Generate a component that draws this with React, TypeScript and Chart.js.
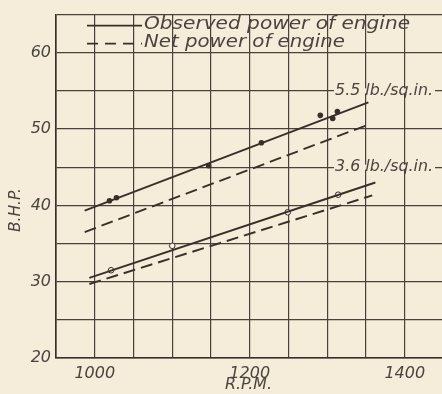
import React, { useEffect, useRef } from "react";
import { Chart, registerables } from "chart.js";

Chart.register(...registerables);

// ---- data ----
const xTicks = [950, 1000, 1050, 1100, 1150, 1200, 1250, 1300, 1350, 1400];
const xTickLabels = ["1000", "1200", "1400"];
const yTicks = [20, 25, 30, 35, 40, 45, 50, 55, 60, 65];
const yTickLabels = ["20", "30", "40", "50", "60"];

// 5.5 lb/sq.in. manifold pressure
const obs55Rpm = [987, 1353];
const obs55Bhp = [39.3, 53.5];
const net55Rpm = [987, 1356];
const net55Bhp = [36.5, 50.7];
const pts55Rpm = [1019, 1028, 1147, 1215, 1291, 1307, 1313];
const pts55Bhp = [40.6, 41.0, 45.2, 48.2, 51.8, 51.4, 52.3];

// 3.6 lb/sq.in.
const obs36Rpm = [993, 1362];
const obs36Bhp = [30.5, 43.0];
const net36Rpm = [993, 1358];
const net36Bhp = [29.7, 41.3];
const pts36Rpm = [1021, 1100, 1249, 1314];
const pts36Bhp = [31.5, 34.7, 39.1, 41.4];

const curveLabels = ["5.5 lb./sq.in.", "3.6 lb./sq.in."];
const curveLabelRpm = [1310, 1310];
const curveLabelBhp = [55, 45];

const legendLabels = ["Observed power of engine", "Net power of engine"];
const xTitle = "R.P.M.";
const yTitle = "B.H.P.";

// ---- styles ----
const PAPER = "#f6ecda";
const INK = "#37302a";
const GRID = "#4a423a";
const TEXT = "#4a443f";
const FONT = "'DejaVu Sans', 'Liberation Sans', sans-serif";

const zip = (xs: number[], ys: number[]) => xs.map((x, i) => ({ x, y: ys[i] }));

// draws text stretched horizontally to span the given width (wide lettering)
function fitText(
  ctx: CanvasRenderingContext2D,
  text: string,
  x: number,
  y: number,
  width: number
) {
  const w = ctx.measureText(text).width;
  const k = width / w;
  ctx.save();
  ctx.translate(x, y);
  ctx.scale(k, 1);
  ctx.fillText(text, 0, 0);
  ctx.restore();
}

const paperPlugin = {
  id: "paper",
  beforeDraw(chart: any) {
    const { ctx, width, height } = chart;
    ctx.save();
    ctx.fillStyle = PAPER;
    ctx.fillRect(0, 0, width, height);
    ctx.restore();
  },
};

const decorPlugin = {
  id: "decor",
  beforeDatasetsDraw(chart: any) {
    const { ctx, chartArea, scales } = chart;
    const xs = scales.x;
    const ys = scales.y;
    ctx.save();
    ctx.font = `italic 16px ${FONT}`;
    ctx.textBaseline = "middle";
    ctx.textAlign = "left";
    curveLabels.forEach((t, i) => {
      const px = xs.getPixelForValue(curveLabelRpm[i]);
      const py = ys.getPixelForValue(curveLabelBhp[i]);
      ctx.fillStyle = PAPER;
      ctx.fillRect(px - 1, py - 2.5, 101, 5);
      ctx.fillStyle = TEXT;
      fitText(ctx, t, px, py, 98);
    });

    // legend
    const l = chartArea.left;
    const t = chartArea.top;
    ctx.strokeStyle = INK;
    ctx.lineWidth = 1.6;
    ctx.beginPath();
    ctx.moveTo(l + 31, t + 11);
    ctx.lineTo(l + 86, t + 11);
    ctx.stroke();
    ctx.setLineDash([11, 7]);
    ctx.beginPath();
    ctx.moveTo(l + 31, t + 29);
    ctx.lineTo(l + 86, t + 29);
    ctx.stroke();
    ctx.setLineDash([]);
    ctx.font = `italic 17px ${FONT}`;
    ctx.fillStyle = TEXT;
    fitText(ctx, legendLabels[0], l + 88, t + 10, 266);
    fitText(ctx, legendLabels[1], l + 88, t + 28, 201);

    // axis titles
    ctx.font = `italic 16px ${FONT}`;
    ctx.textAlign = "left";
    fitText(ctx, xTitle, 225, 385, 47);
    ctx.translate(16, 232);
    ctx.rotate(-Math.PI / 2);
    fitText(ctx, yTitle, 0, 0, 44);
    ctx.restore();
  },
};

export default function App() {
  const ref = useRef<HTMLCanvasElement>(null);

  useEffect(() => {
    document.body.style.margin = "0";
    if (!ref.current) return;
    const lineDs = (label: string, data: any[], dashed: boolean) => ({
      type: "line" as const,
      label,
      data,
      borderColor: INK,
      borderWidth: 1.9,
      borderDash: dashed ? [12, 6] : [],
      pointRadius: 0,
      fill: false,
      tension: 0,
    });
    const chart = new Chart(ref.current, {
      type: "line",
      data: {
        datasets: [
          lineDs("Observed 5.5", zip(obs55Rpm, obs55Bhp), false),
          lineDs("Net 5.5", zip(net55Rpm, net55Bhp), true),
          lineDs("Observed 3.6", zip(obs36Rpm, obs36Bhp), false),
          lineDs("Net 3.6", zip(net36Rpm, net36Bhp), true),
          {
            type: "scatter" as const,
            label: "Points 5.5",
            data: zip(pts55Rpm, pts55Bhp),
            pointRadius: 2.8,
            pointBackgroundColor: INK,
            pointBorderColor: INK,
            pointBorderWidth: 0,
          } as any,
          {
            type: "scatter" as const,
            label: "Points 3.6",
            data: zip(pts36Rpm, pts36Bhp),
            pointRadius: 2.8,
            pointBackgroundColor: "#fbf6ec",
            pointBorderColor: INK,
            pointBorderWidth: 1,
          } as any,
        ],
      },
      options: {
        animation: false,
        responsive: false,
        events: [],
        layout: { autoPadding: false, padding: { top: 12, left: 0, right: 0, bottom: 0 } },
        plugins: {
          legend: { display: false },
          tooltip: { enabled: false },
          title: { display: false },
        },
        scales: {
          x: {
            type: "linear",
            min: 950,
            max: 1448,
            afterBuildTicks: (s: any) => {
              s.ticks = xTicks.map((v) => ({ value: v }));
            },
            afterFit: (s: any) => {
              s.height = 36;
            },
            grid: { color: GRID, lineWidth: 1.2, drawTicks: false },
            border: { color: INK, width: 1.6 },
            ticks: {
              autoSkip: false,
              maxRotation: 0,
              padding: 6,
              color: TEXT,
              font: { family: FONT, size: 16, style: "italic" },
              callback: (v: any) =>
                xTickLabels.includes(String(v)) ? String(v) : "",
            },
          },
          y: {
            type: "linear",
            min: 20,
            max: 65,
            afterBuildTicks: (s: any) => {
              s.ticks = yTicks.map((v) => ({ value: v }));
            },
            afterFit: (s: any) => {
              s.width = 56;
            },
            grid: { color: GRID, lineWidth: 1.2, drawTicks: false },
            border: { color: INK, width: 1.6 },
            ticks: {
              padding: 5,
              color: TEXT,
              font: { family: FONT, size: 16, style: "italic" },
              callback: (v: any) =>
                yTickLabels.includes(String(v)) ? String(v) : "",
            },
          },
        },
      },
      plugins: [paperPlugin, decorPlugin],
    } as any);
    return () => chart.destroy();
  }, []);

  return (
    <div style={{ position: "absolute", left: 0, top: 0, width: 442, height: 394 }}>
      <canvas ref={ref} width={442} height={394} />
    </div>
  );
}
